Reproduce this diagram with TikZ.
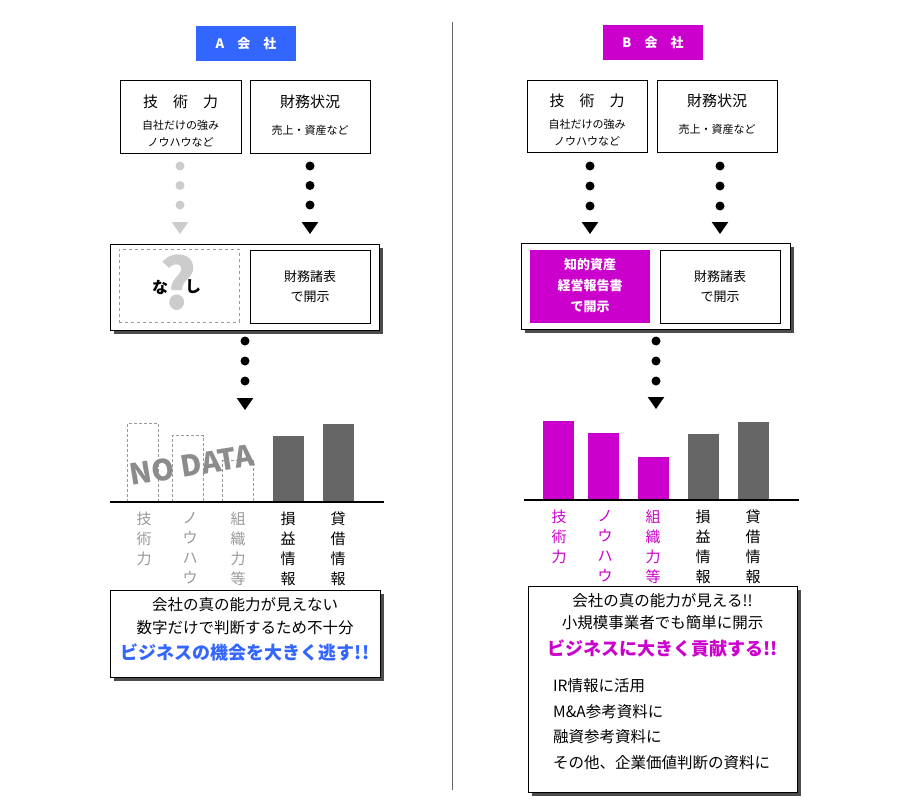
\documentclass[tikz,border=0pt]{standalone}
\usepackage{fontspec}
\setmainfont{Noto Sans CJK JP}
\usetikzlibrary{shapes.geometric,shadows}
\definecolor{ablue}{HTML}{3366FF}
\definecolor{bmag}{HTML}{CC00CC}
\definecolor{bargray}{HTML}{666666}
\definecolor{dotgray}{HTML}{CCCCCC}
\definecolor{nodata}{HTML}{8C8C8C}
\definecolor{labgray}{HTML}{999999}
\begin{document}
\begin{tikzpicture}[x=1pt,y=-1pt,
  hdr/.style={minimum width=100, minimum height=35, inner sep=0, text=white, font=\fontsize{13}{15}\selectfont\bfseries},
  box/.style={draw=black, line width=0.9pt, fill=white, inner sep=0},
  topbox/.style={box, minimum width=120, minimum height=72},
  panel/.style={box, drop shadow={shadow xshift=4pt, shadow yshift=-4pt, fill=black!70, opacity=1}},
  boxttl/.style={font=\fontsize{15}{18}\selectfont, inner sep=0},
  boxsub/.style={font=\fontsize{11}{17}\selectfont, inner sep=0, align=center},
  boxmid/.style={font=\fontsize{13}{20}\selectfont, inner sep=0, align=center},
  dotb/.style={circle, fill=black, inner sep=0, minimum size=9},
  dotg/.style={dotb, fill=dotgray},
  tri/.style={regular polygon, regular polygon sides=3, shape border rotate=180, fill=black, inner sep=0, minimum size=16, xscale=1.2},
  trig/.style={tri, fill=dotgray},
  vlab/.style={font=\fontsize{15}{20}\selectfont, inner sep=0, align=center, anchor=north},
  txtline/.style={font=\fontsize{15.5}{18}\selectfont, inner sep=0},
  bigline/.style={font=\fontsize{18}{20}\selectfont\bfseries, inner sep=0},
  dashbar/.style={draw=labgray, dash pattern=on 3pt off 2pt, line width=1.4pt},
]
\useasboundingbox (0,0) rectangle (900,800);

% divider
\draw[black!60, line width=0.8pt] (452,22) -- (452,790);

%================ A company ================
\node[hdr, fill=ablue] (hA) at (246,43.5) {A　会　社};

\node[topbox, minimum width=121, minimum height=73] (tA) at (180.5,116.5) {};
\node[boxttl] (tAt) at (180.5,102) {技　術　力};
\node[boxsub] (tAs) at (180.5,133.5) {自社だけの強み\\ノウハウなど};
\node[topbox, minimum height=73] (fA) at (310,116.5) {};
\node[boxttl] (fAt) at (310,102) {財務状況};
\node[boxsub] (fAs) at (310,130) {売上・資産など};

\node[dotg] (ga1) at (180,166) {};
\node[dotg] (ga2) at (180,185.5) {};
\node[dotg] (ga3) at (180,205) {};
\node[trig] (ga4) at (180,226) {};
\node[dotb] (ba1) at (310,166) {};
\node[dotb] (ba2) at (310,185.5) {};
\node[dotb] (ba3) at (310,205) {};
\node[tri] (ba4) at (310,226) {};

\node[panel, minimum width=269, minimum height=86] (pA) at (244.5,287) {};
\node[draw=labgray, dashed, line width=0.6pt, minimum width=120, minimum height=73, inner sep=0] (nA) at (179,285.5) {};
\node[text=dotgray, font=\fontsize{70}{70}\selectfont\bfseries, inner sep=0] (qA) at (178,283) {?};
\node[font=\fontsize{16}{18}\selectfont\bfseries, inner sep=0] (na) at (160,287) {な};
\node[font=\fontsize{16}{18}\selectfont\bfseries, inner sep=0] (shi) at (193,287) {し};
\node[box, minimum width=120, minimum height=73] (zA) at (310,286.5) {};
\node[boxmid] (zAt) at (310,287) {財務諸表\\で開示};

\node[dotb] (ca1) at (245,341) {};
\node[dotb] (ca2) at (245,361) {};
\node[dotb] (ca3) at (245,381) {};
\node[tri] (ca4) at (245,402) {};

% bars A
\draw[dashbar] (127.5,502) -- (127.5,423.5) -- (158.5,423.5) -- (158.5,502);
\draw[dashbar] (172.5,502) -- (172.5,435.5) -- (203.5,435.5) -- (203.5,502);
\draw[dashbar] (222.5,502) -- (222.5,460.5) -- (253.5,460.5) -- (253.5,502);
\fill[bargray] (273,436) rectangle (304,502);
\fill[bargray] (323,424) rectangle (354,502);
\node[text=nodata, font=\fontsize{29}{29}\selectfont\bfseries, rotate=9, inner sep=0] (nd) at (192,465) {NO DATA};
\draw[black, line width=2pt] (110,502) -- (384,502);

\node[vlab, text=labgray] (la1) at (144,512) {技\\術\\力};
\node[vlab, text=labgray] (la2) at (190,512) {ノ\\ウ\\ハ\\ウ};
\node[vlab, text=labgray] (la3) at (238,512) {組\\織\\力\\等};
\node[vlab] (la4) at (288,512) {損\\益\\情\\報};
\node[vlab] (la5) at (338,512) {貸\\借\\情\\報};

\node[panel, minimum width=270, minimum height=87] (rA) at (245,633.5) {};
\node[txtline] (rA1) at (245,605) {会社の真の能力が見えない};
\node[txtline] (rA2) at (245,628) {数字だけで判断するため不十分};
\node[bigline, text=ablue] (rA3) at (245,652) {ビジネスの機会を大きく逃す!!};

%================ B company ================
\node[hdr, fill=bmag] (hB) at (653,42.5) {B　会　社};

\node[topbox] (tB) at (587,116) {};
\node[boxttl] (tBt) at (587,101) {技　術　力};
\node[boxsub] (tBs) at (587,132.5) {自社だけの強み\\ノウハウなど};
\node[topbox] (fB) at (717,116) {};
\node[boxttl] (fBt) at (717,101) {財務状況};
\node[boxsub] (fBs) at (717,129.5) {売上・資産など};

\node[dotb] (gb1) at (590,166) {};
\node[dotb] (gb2) at (590,186) {};
\node[dotb] (gb3) at (590,206) {};
\node[tri] (gb4) at (590,226) {};
\node[dotb] (bb1) at (720,166) {};
\node[dotb] (bb2) at (720,186) {};
\node[dotb] (bb3) at (720,206) {};
\node[tri] (bb4) at (720,226) {};

\node[panel, minimum width=269, minimum height=86] (pB) at (655.5,286) {};
\node[fill=bmag, minimum width=120, minimum height=73, inner sep=0] (mB) at (590,286.5) {};
\node[font=\fontsize{13}{21}\selectfont\bfseries, text=white, align=center, inner sep=0] (mBt) at (590,286) {知的資産\\経営報告書\\で開示};
\node[box, minimum width=120, minimum height=73] (zB) at (720,286.5) {};
\node[boxmid] (zBt) at (720,286.5) {財務諸表\\で開示};

\node[dotb] (cb1) at (656,341) {};
\node[dotb] (cb2) at (656,361) {};
\node[dotb] (cb3) at (656,381) {};
\node[tri] (cb4) at (656,401) {};

% bars B
\fill[bmag] (543,421) rectangle (574,500);
\fill[bmag] (588,433) rectangle (619,500);
\fill[bmag] (638,457) rectangle (669,500);
\fill[bargray] (688,434) rectangle (719,500);
\fill[bargray] (738,422) rectangle (769,500);
\draw[black, line width=2pt] (524,500) -- (799,500);

\node[vlab, text=bmag] (lb1) at (559,510) {技\\術\\力};
\node[vlab, text=bmag] (lb2) at (605,510) {ノ\\ウ\\ハ\\ウ};
\node[vlab, text=bmag] (lb3) at (653,510) {組\\織\\力\\等};
\node[vlab] (lb4) at (703,510) {損\\益\\情\\報};
\node[vlab] (lb5) at (753,510) {貸\\借\\情\\報};

\node[panel, minimum width=269, minimum height=206] (rB) at (662.5,689) {};
\node[txtline] (rB1) at (662.5,601) {会社の真の能力が見える!!};
\node[txtline] (rB2) at (662.5,623) {小規模事業者でも簡単に開示};
\node[bigline, text=bmag] (rB3) at (662.5,649) {ビジネスに大きく貢献する!!};
\node[txtline, anchor=west] (rB4) at (553,686) {IR情報に活用};
\node[txtline, anchor=west] (rB5) at (553,712) {M\&A参考資料に};
\node[txtline, anchor=west] (rB6) at (553,737) {融資参考資料に};
\node[txtline, anchor=west] (rB7) at (553,763) {その他、企業価値判断の資料に};
\end{tikzpicture}
\end{document}
